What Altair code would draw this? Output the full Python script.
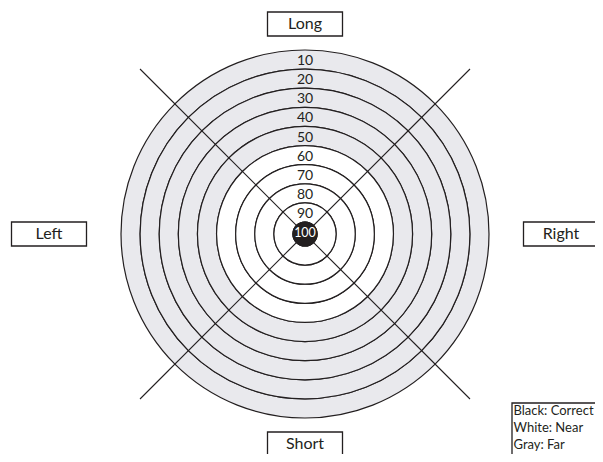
import math
import altair as alt
import pandas as pd

# ---- data ----
ring_values = [10, 20, 30, 40, 50, 60, 70, 80, 90, 100]
ring_zone = ["Far", "Far", "Far", "Far", "Far", "Near", "Near", "Near", "Near", "Correct"]
direction_labels = ["Long", "Short", "Left", "Right"]
legend_lines = ["Black: Correct", "White: Near", "Gray: Far"]

# ---- layout constants ----
W, H = 587, 446
XD = [-297, 290]
YD = [-220, 226]
R_OUT, R_IN = 184, 12
STEP = 10
ARM = 165
BOX_W, BOX_H = 75, 24
V_OFF, H_OFF = 210, 256
FONT = "Lato"
INK = "#231f20"
GRAY = "#e9e9ed"

xs = alt.Scale(domain=XD, nice=False, zero=False)
ys = alt.Scale(domain=YD, nice=False, zero=False)
rs = alt.Scale(type="linear", domain=[100, 10], range=[R_IN, R_OUT], zero=False)

rings = pd.DataFrame({"value": ring_values, "zone": ring_zone, "cx": 0, "cy": 0})
rings["inner"] = rings["value"] + STEP      # inner edge of each band = next ring
rings["mid"] = rings["value"] + STEP / 2    # label sits mid-band

pos = dict(
    x=alt.X("cx:Q", scale=xs, axis=None),
    y=alt.Y("cy:Q", scale=ys, axis=None),
)

arcs = alt.Chart(rings).mark_arc(
    theta=0, theta2=math.tau, stroke=INK, strokeWidth=1.2
).encode(
    radius=alt.Radius("value:Q", scale=rs),
    radius2="inner:Q",
    fill=alt.Fill("zone:N", scale=alt.Scale(domain=["Far", "Near", "Correct"],
                                            range=[GRAY, "#ffffff", INK]), legend=None),
    **pos,
)

diag = pd.DataFrame({
    "x": [-ARM, ARM], "y": [ARM, ARM], "x2": [ARM, -ARM], "y2": [-ARM, -ARM]
})
rules = alt.Chart(diag).mark_rule(color=INK, strokeWidth=1.1).encode(
    x=alt.X("x:Q", scale=xs, axis=None),
    y=alt.Y("y:Q", scale=ys, axis=None),
    x2="x2:Q", y2="y2:Q",
)

bull = alt.Chart(rings).transform_filter("datum.value == 100").mark_arc(
    theta=0, theta2=math.tau, stroke=INK, strokeWidth=1.2, fill=INK
).encode(
    radius=alt.Radius("value:Q", scale=rs),
    radius2="inner:Q",
    **pos,
)

labels = alt.Chart(rings).mark_text(
    theta=0, font=FONT, align="center", baseline="middle", dy=1.5
).encode(
    radius=alt.Radius("mid:Q", scale=rs),
    text="value:Q",
    fill=alt.condition("datum.value == 100", alt.value("#ffffff"), alt.value(INK)),
    size=alt.condition("datum.value == 100", alt.value(12.5), alt.value(14)),
    **pos,
)

dir_df = pd.DataFrame({
    "label": direction_labels,
    "cx": [0, 0, -H_OFF, H_OFF],
    "cy": [V_OFF, -V_OFF, 0, 0],
})
dir_df["x1"] = dir_df["cx"] - BOX_W / 2
dir_df["x2"] = dir_df["cx"] + BOX_W / 2
dir_df["y1"] = dir_df["cy"] - BOX_H / 2
dir_df["y2"] = dir_df["cy"] + BOX_H / 2

boxes = alt.Chart(dir_df).mark_rect(fill="white", stroke=INK, strokeWidth=1.3).encode(
    x=alt.X("x1:Q", scale=xs, axis=None), x2="x2:Q",
    y=alt.Y("y1:Q", scale=ys, axis=None), y2="y2:Q",
)
box_text = alt.Chart(dir_df).mark_text(font=FONT, fontSize=16, color=INK,
                                       align="center", baseline="middle").encode(
    x=alt.X("cx:Q", scale=xs, axis=None),
    y=alt.Y("cy:Q", scale=ys, axis=None),
    text="label:N",
)

leg_box = pd.DataFrame({"x1": [207], "x2": [340], "y1": [-169], "y2": [-300]})
legend_rect = alt.Chart(leg_box).mark_rect(fill="white", stroke=INK, strokeWidth=1.3).encode(
    x=alt.X("x1:Q", scale=xs, axis=None), x2="x2:Q",
    y=alt.Y("y1:Q", scale=ys, axis=None), y2="y2:Q",
)
leg_df = pd.DataFrame({"t": legend_lines, "x": [208.5] * 3, "y": [-177, -194, -211]})
legend_text = alt.Chart(leg_df).mark_text(font=FONT, fontSize=13, color=INK,
                                          align="left", baseline="middle").encode(
    x=alt.X("x:Q", scale=xs, axis=None),
    y=alt.Y("y:Q", scale=ys, axis=None),
    text="t:N",
)

chart = alt.layer(
    arcs, rules, bull, labels, boxes, box_text, legend_rect, legend_text
).properties(
    width=W, height=H, padding=0, autosize=alt.AutoSizeParams(type="none")
).configure_view(stroke=None)

chart.save("out.html", embed_options={"renderer": "svg", "actions": False})
